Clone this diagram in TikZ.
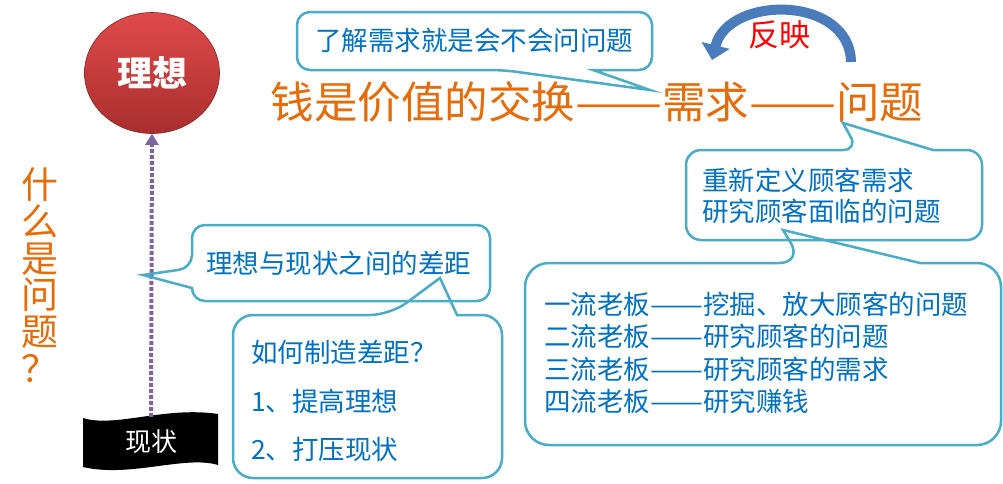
\documentclass[tikz,border=0pt]{standalone}
\usepackage{fontspec}
\usepackage{graphicx}
\newfontfamily\cjk{Noto Sans CJK SC}
\usetikzlibrary{arrows.meta,shapes.geometric}
\definecolor{titleorange}{HTML}{E46C0A}
\definecolor{textblue}{HTML}{0070C0}
\definecolor{calloutline}{HTML}{4BACC6}
\definecolor{gappurple}{HTML}{8064A2}
\definecolor{turnblue}{HTML}{4A7BBA}
\definecolor{idealtop}{HTML}{E04A4A}
\definecolor{idealbottom}{HTML}{A92E2E}
\newcommand\dashpair{\resizebox{2em}{\height}{——}}
\begin{document}
\begin{tikzpicture}[x=1pt,y=-1pt,
    callout/.style={draw=calloutline,line width=2.5,rounded corners=13},
    bubbletext/.style={inner sep=0,text=textblue,font=\cjk\fontsize{26.5}{31}\selectfont},
    bigtitle/.style={inner sep=0,text=titleorange,font=\cjk\fontsize{43.5}{50}\selectfont},
    gaparrow/.style={gappurple,line width=4,dash pattern=on 4pt off 2pt,-{Triangle[width=13,length=11]}}]
    \useasboundingbox (0,0) rectangle (1003,483);
    \fill[white] (0,0) rectangle (1003,483);
    % ideal and reality
    \node[ellipse,minimum width=135,minimum height=121,top color=idealtop,bottom color=idealbottom,draw=idealbottom!80!black,line width=0.6] (ideal) at (152,73) {};
    \node[inner sep=0,text=white,font=\cjk\bfseries\fontsize{35}{40}\selectfont] (idealtext) at (ideal.center) {理想};
    \fill[black] (83,418) .. controls (115,428) and (165,406) .. (218,414) -- (218,465) .. controls (185,455) and (130,478) .. (83,467) -- cycle;
    \node[inner sep=0,minimum width=130,minimum height=50,text=white,font=\cjk\fontsize{26}{30}\selectfont] (real) at (151,442) {现状};
    \draw[gaparrow] (real.north) -- (ideal.south);
    \node[inner sep=0,align=center,text=titleorange,font=\cjk\fontsize{37}{36.7}\selectfont] (whatq) at (40,275) {什\\么\\是\\问\\题\\？};
    % title
    \node[bigtitle] (title) at (597,102) {钱是价值的交换\dashpair 需求\dashpair 问题};
    \node[inner sep=0,text=red,font=\cjk\fontsize{31}{36}\selectfont] (reflect) at (779,35) {反映};
    \draw[turnblue,line width=10,-{Triangle[width=28,length=15]}] (851,62) .. controls (850,-5) and (728,-5) .. (712,60);
    % callouts
    \draw[callout] (593,70) -- (652,70) -- (652,12) -- (297,12) -- (297,70) -- (503,70) [sharp corners] -- (650,90) -- cycle;
    \node[bubbletext] (ask) at (474,40) {了解需求就是会不会问问题};
    \draw[callout] (192,288) -- (192,301) -- (490,301) -- (490,225) -- (192,225) -- (192,268) [sharp corners] -- (143,275) -- cycle;
    \node[bubbletext,anchor=west] (gap) at (206,263) {理想与现状之间的差距};
    \draw[callout,rounded corners=20] (457,315) -- (502,315) -- (502,478) -- (233,478) -- (233,315) -- (390,315) [sharp corners] -- (440,278) -- cycle;
    \node[bubbletext,anchor=west,align=left,font=\cjk\fontsize{26.5}{48.5}\selectfont] (howgap) at (251,401) {如何制造差距？\\1、提高理想\\2、打压现状};
    \draw[callout,rounded corners=15] (933,150) -- (982,150) -- (982,240) -- (686,240) -- (686,150) -- (858,150) [sharp corners] -- (843,123) -- cycle;
    \node[bubbletext,anchor=west,align=left] (redefine) at (702,196) {重新定义顾客需求\\研究顾客面临的问题};
    \draw[callout,rounded corners=24] (920,263) -- (1001,263) -- (1001,445) -- (525,445) -- (525,263) -- (803,263) [sharp corners] -- (783,230) -- cycle;
    \node[bubbletext,anchor=west,align=left,font=\cjk\fontsize{26.5}{32.3}\selectfont] (bosses) at (544,353) {一流老板\dashpair 挖掘、放大顾客的问题\\二流老板\dashpair 研究顾客的问题\\三流老板\dashpair 研究顾客的需求\\四流老板\dashpair 研究赚钱};
\end{tikzpicture}
\end{document}
